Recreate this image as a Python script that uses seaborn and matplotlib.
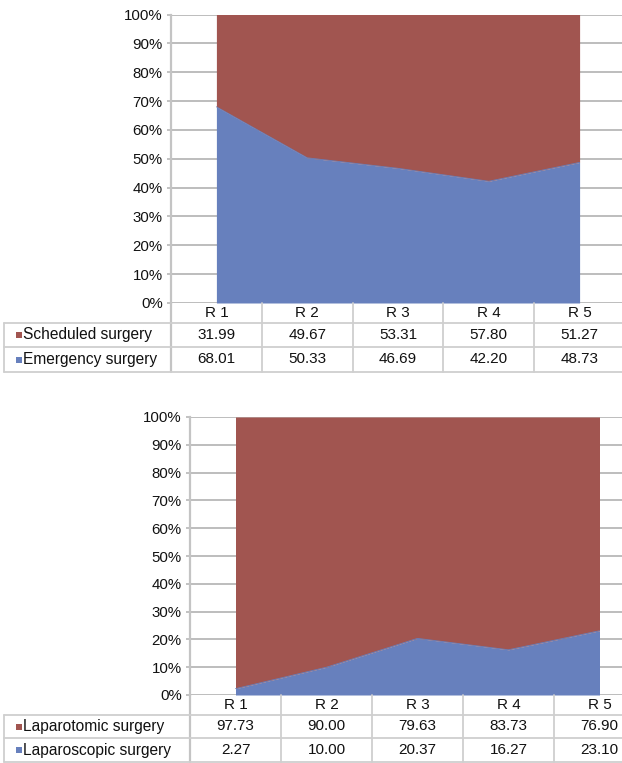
import matplotlib
matplotlib.use("Agg")
import matplotlib.pyplot as plt
import matplotlib.transforms as mtransforms
from matplotlib.lines import Line2D
from matplotlib.patches import Rectangle
import seaborn as sns
import pandas as pd

# ---------------- data ----------------
rounds = ["R 1", "R 2", "R 3", "R 4", "R 5"]
scheduled = [31.99, 49.67, 53.31, 57.80, 51.27]
emergency = [68.01, 50.33, 46.69, 42.20, 48.73]
laparotomic = [97.73, 90.00, 79.63, 83.73, 76.90]
laparoscopic = [2.27, 10.00, 20.37, 16.27, 23.10]
yticks = list(range(0, 101, 10))

RED = "#A15550"
BLUE = "#6780BD"
GRID = "#B8B8B8"
TLINE = "#CFCFCF"

sns.set_theme(style="white")
plt.rcParams["font.family"] = ["Liberation Sans", "DejaVu Sans"]

W, H = 622, 763
fig = plt.figure(figsize=(W / 100, H / 100), dpi=100)
fig.patch.set_facecolor("white")


def fx(px):
    return px / W


def fy(py):
    return 1 - py / H


def draw_panel(left, right, top, zero, rows, top_series, bot_series, top_name, bot_name):
    ax = fig.add_axes([fx(left), fy(zero), fx(right) - fx(left), fy(top) - fy(zero)])
    df = pd.DataFrame({"x": range(len(rounds)), "bottom": bot_series,
                       "top": [a + b for a, b in zip(bot_series, top_series)]})
    ax.fill_between(df["x"], 0, df["bottom"], color=BLUE, lw=0, zorder=2)
    ax.fill_between(df["x"], df["bottom"], df["top"], color=RED, lw=0, zorder=2)
    sns.lineplot(data=df, x="x", y="bottom", ax=ax, color=BLUE, lw=0.6, zorder=3)
    ax.set_xlim(-0.5, len(rounds) - 0.5)
    ax.set_ylim(0, 100)
    ax.set_yticks(yticks)
    ax.set_yticklabels([f"{v}%" for v in yticks], fontsize=10.8, color="#111111")
    ax.set_xticks([])
    ax.set_xlabel("")
    ax.set_ylabel("")
    ax.yaxis.grid(True, color=GRID, lw=1.3, zorder=0)
    ax.set_axisbelow(True)
    ax.tick_params(axis="y", length=3, width=1.2, color=GRID, pad=3, left=True)
    for s in ["top", "right", "bottom"]:
        ax.spines[s].set_visible(False)
    ax.spines["left"].set_color("#C4C4C4")
    ax.spines["left"].set_linewidth(1.6)

    # ---------- data table ----------
    tr = mtransforms.blended_transform_factory(ax.transData, fig.transFigure)
    r0, r1, r2, r3 = rows
    # vertical column lines
    for i in range(len(rounds) + 1):
        fig.add_artist(Line2D([i - 0.5, i - 0.5], [fy(r0), fy(r3)], transform=tr,
                              color=TLINE if i else "#C4C4C4", lw=1.3 if i else 1.6))
    # horizontal lines
    for y in (r1, r2, r3):
        fig.add_artist(Line2D([fx(4), fx(W)], [fy(y), fy(y)], transform=fig.transFigure,
                              color=TLINE, lw=1.3))
    fig.add_artist(Line2D([fx(4), fx(4)], [fy(r1), fy(r3)], transform=fig.transFigure,
                          color=TLINE, lw=1.3))
    # header
    for i, lab in enumerate(rounds):
        fig.text(i, fy((r0 + r1) / 2), lab, transform=tr, ha="center", va="center",
                 fontsize=11, color="#111111")
    # rows
    for (y0, y1), name, vals, col in (((r1, r2), top_name, top_series, RED),
                                      ((r2, r3), bot_name, bot_series, BLUE)):
        yc = (y0 + y1) / 2
        fig.add_artist(Rectangle((fx(16), fy(yc + 3)), fx(6), fy(yc - 3) - fy(yc + 3),
                                 transform=fig.transFigure, color=col, lw=0))
        fig.text(fx(23), fy(yc), name, ha="left", va="center", fontsize=11.2, color="#111111")
        for i, v in enumerate(vals):
            fig.text(i, fy(yc), f"{v:.2f}", transform=tr, ha="center", va="center",
                     fontsize=11, color="#111111")
    return ax


draw_panel(171, 625, 14.5, 303, (303, 323, 347, 372), scheduled, emergency,
           "Scheduled surgery", "Emergency surgery")
draw_panel(190, 645, 417, 695, (695, 715, 738, 762), laparotomic, laparoscopic,
           "Laparotomic surgery", "Laparoscopic surgery")

fig.savefig("out.png", dpi=100, facecolor="white")
